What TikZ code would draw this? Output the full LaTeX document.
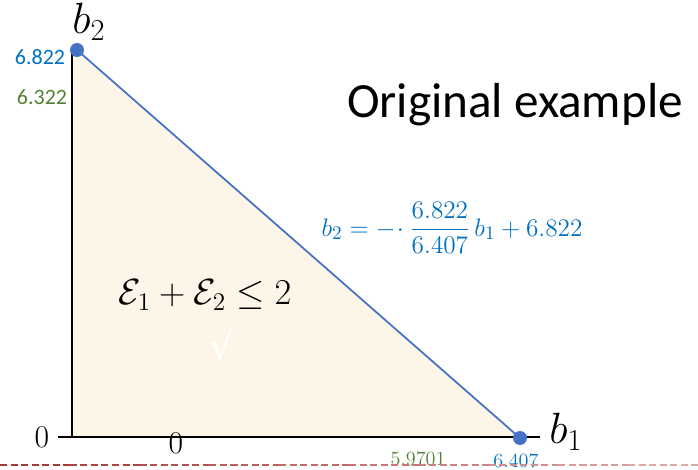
\documentclass[tikz,border=0pt]{standalone}
\usepackage{amsmath}
\usepackage{fontspec}
\usepackage{xcolor}
\usepackage{tikz}
\usetikzlibrary{positioning,calc}
\newfontfamily\tickfont{Carlito}
\newfontfamily\markfont{DejaVu Sans}
\definecolor{limitblue}{HTML}{4472C4}
\definecolor{tickblue}{HTML}{0070C0}
\definecolor{tickgreen}{HTML}{548235}
\definecolor{regioncream}{HTML}{FDF5E8}
\definecolor{dashred}{HTML}{A83A36}
\definecolor{dashpink}{HTML}{E0B4B4}

\begin{document}
\begin{tikzpicture}[x=0.02cm, y=-0.02cm, axisline/.style={line width=1.4pt, black}, limitline/.style={line width=1pt, limitblue}, ptdot/.style={circle, fill=limitblue, inner sep=0pt, minimum size=0.28cm}, sanstick/.style={font=\tickfont\fontsize{12.5}{13}\selectfont}, seriftick/.style={font=\fontsize{11.5}{12}\selectfont}]
\useasboundingbox (0,0) rectangle (698,470);
\coordinate (orig) at (72,437);
\coordinate (ytop) at (72,52);
\coordinate (xstart) at (58,437);
\coordinate (xend) at (540,437);
\coordinate (p2) at (77,50);
\coordinate (p1) at (520,438);
% feasible region
\fill[regioncream] (orig) -- (ytop) -- (p2) -- (p1) -- cycle;
\draw[axisline] (orig) -- (ytop);
\draw[axisline] (xstart) -- (xend);
\draw[limitline] (p2) -- (p1);
\node[ptdot] (b2pt) at (p2) {};
\node[ptdot] (b1pt) at (p1) {};
% axis labels
\node[font=\fontsize{25}{25}\selectfont] (b2lbl) at (89,22) {$b_2$};
\node[font=\fontsize{25}{25}\selectfont] (b1lbl) at (566,432) {$b_1$};
\node[sanstick, tickblue] (y682) at (40,57) {6.822};
\node[sanstick, tickgreen] (y632) at (42,97) {6.322};
\node[font=\fontsize{18}{18}\selectfont] (yzero) at (42,437) {0};
\node[font=\fontsize{18}{18}\selectfont] (xzero) at (176,443) {0};
\node[seriftick, tickgreen] (x597) at (418,459) {5.9701};
\node[seriftick, tickblue] (x640) at (516,461) {6.407};
% texts
\node[font=\tickfont\fontsize{28}{30}\selectfont] (title) at (515,105) {Original example};
\node[font=\fontsize{15}{17}\selectfont, tickblue] (eqn) at (452,228) {$b_2 ={-}\!\cdot \dfrac{6.822}{6.407}\, b_1 + 6.822$};
\node[font=\fontsize{22}{24}\selectfont, inner sep=0pt] (cons) at (205,295) {$\mathcal{E}_1 + \mathcal{E}_2 \le 2$};
\node[font=\markfont\fontsize{22}{22}\selectfont, white, inner sep=0pt] (tick) at (222,345) {√};
% dashed rule
\foreach \i in {0,...,9} {
  \pgfmathtruncatemacro\mix{100-10*\i}
  \draw[dashed, dash pattern=on 4pt off 2pt, line width=0.6pt, dashred!\mix!dashpink] (\i*69.8,465) -- (\i*69.8+69.8,465);
}
\end{tikzpicture}
\end{document}
